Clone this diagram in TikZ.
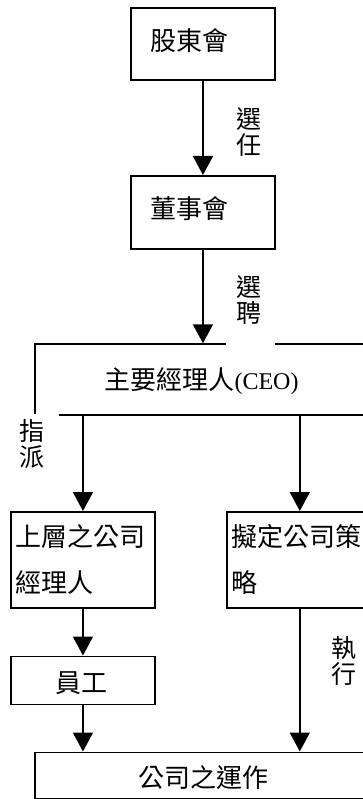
\documentclass[tikz,border=0pt]{standalone}
\usepackage{fontspec}
\setmainfont{Liberation Serif}
\newfontfamily\cjk{Noto Sans CJK TC}
\usetikzlibrary{arrows.meta}
\tikzset{
  box/.style={draw=black, line width=1.6pt, anchor=north west, inner sep=0pt},
  txt/.style={inner sep=0pt, font=\cjk\fontsize{26}{28}\selectfont},
  lbl/.style={inner sep=0pt, align=center, font=\cjk\fontsize{25}{26}\selectfont},
  conn/.style={line width=1.6pt, -{Triangle[width=20pt,length=19pt]}},
  cover/.style={fill=white}
}
\begin{document}
\begin{tikzpicture}[x=1pt,y=-1pt]
\useasboundingbox (0,0) rectangle (363,799);
\clip (0,0) rectangle (363,799);
% boxes
\node[box, minimum width=144.3pt, minimum height=72pt] (sh) at (130,7.3) {};
\node[box, minimum width=144.3pt, minimum height=73pt] (bd) at (130,175) {};
\node[box, minimum width=346pt, minimum height=71pt] (ceo) at (34,343.3) {};
\node[box, minimum width=144.3pt, minimum height=96pt] (up) at (10,511) {};
\node[box, minimum width=146pt, minimum height=96pt] (st) at (226,511) {};
\node[box, minimum width=144.3pt, minimum height=48pt] (em) at (10,655.5) {};
\node[box, minimum width=346pt, minimum height=46.8pt] (op) at (34,751.5) {};
% connectors
\draw[conn] (sh.south) -- (sh.south |- bd.north);
\draw[conn] (bd.south) -- (bd.south |- ceo.north);
\draw[conn] (ceo.south -| up.south) -- (up.north);
\draw[conn] (ceo.south -| st.south) -- (st.north);
\draw[conn] (up.south) -- (em.north);
\draw[conn] (em.south) -- (em.south |- op.north);
\draw[conn] (st.south) -- (st.south |- op.north);
% label backgrounds
\fill[cover] (226,150) rectangle (273.4,175);
\fill[cover] (226,320) rectangle (275,345.5);
\fill[cover] (28,414.3) rectangle (59,432);
% texts
\node[txt, anchor=base] (t1) at (189.5,50.5) {股東會};
\node[txt, anchor=base] (t2) at (189.5,218.5) {董事會};
\node[txt, anchor=base] (t3) at (201.5,389) {主要經理人{\setmainfont{Liberation Serif}\fontsize{24}{26}\selectfont (CEO)}};
\node[txt, anchor=base west] (t4) at (15.5,546) {上層之公司};
\node[txt, anchor=base west] (t5) at (15.5,592) {經理人};
\node[txt, anchor=base west] (t6) at (231.5,546) {擬定公司策};
\node[txt, anchor=base west] (t7) at (231.5,592) {略};
\node[txt, anchor=base] (t8) at (81,692) {員工};
\node[txt, anchor=base] (t9) at (203.5,787) {公司之運作};
% connector labels
\node[lbl] (l1) at (248.5,132) {選\\任};
\node[lbl] (l2) at (248.5,300) {選\\聘};
\node[lbl] (l3) at (31.5,444) {指\\派};
\node[lbl] (l4) at (344,661) {執\\行};
\end{tikzpicture}
\end{document}
